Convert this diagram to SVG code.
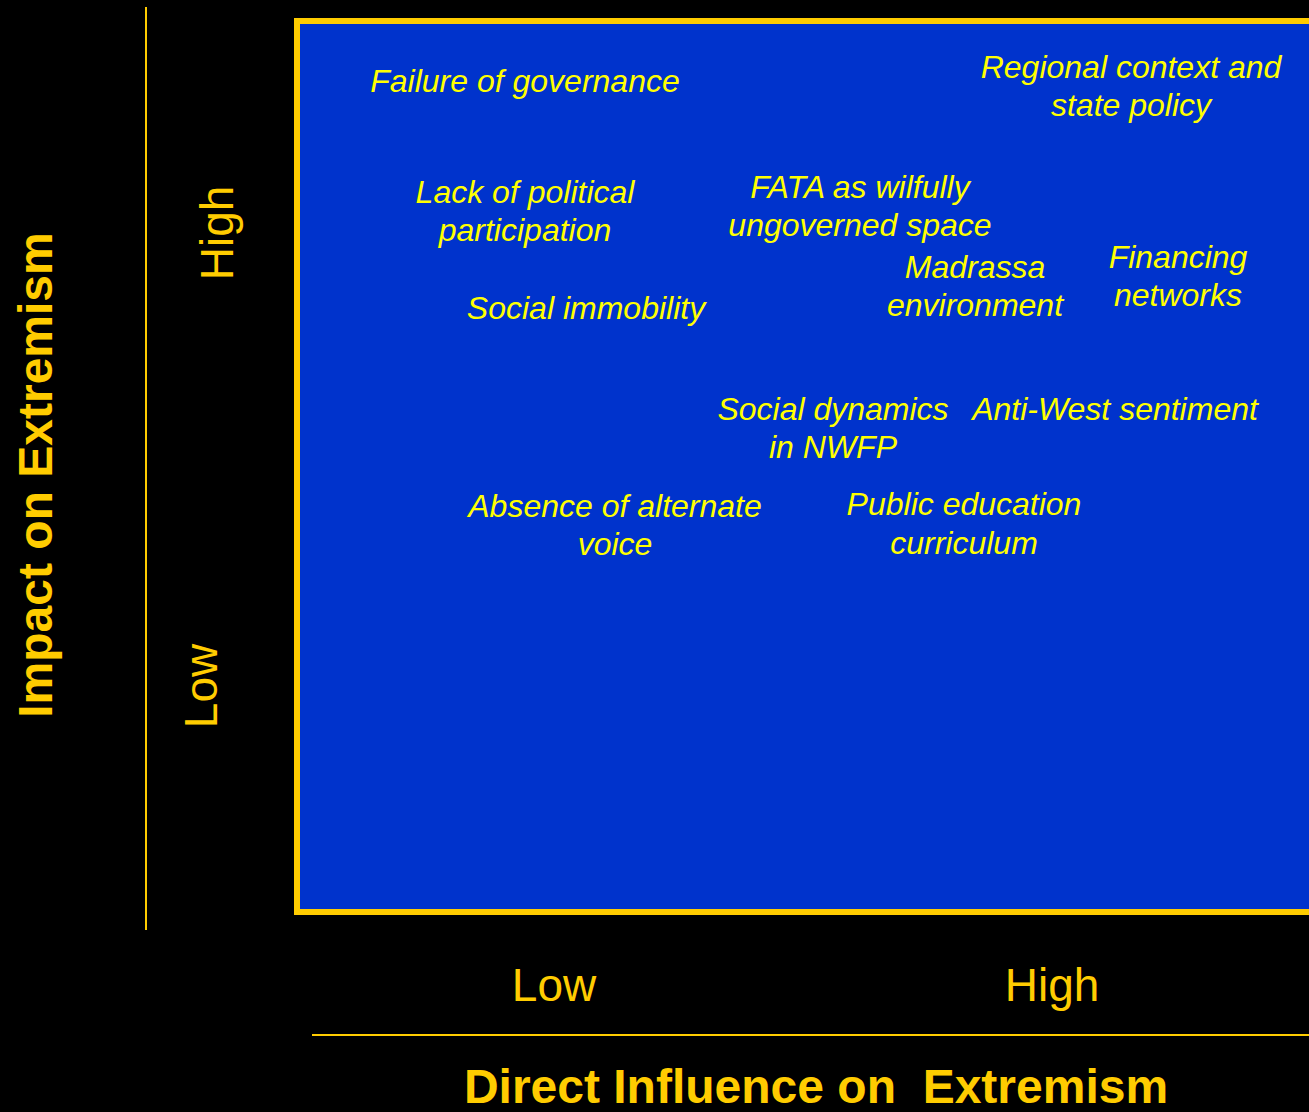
<svg xmlns="http://www.w3.org/2000/svg" width="1309" height="1112" viewBox="0 0 1309 1112">
<style>
.item{font-family:"Liberation Sans",Arial,sans-serif;font-style:italic;font-size:32px;fill:#FFFF00;text-anchor:middle}
.tick{font-family:"Liberation Sans",Arial,sans-serif;font-size:46px;fill:#FFCC00;text-anchor:middle}
.axis{font-family:"Liberation Sans",Arial,sans-serif;font-weight:bold;font-size:48px;fill:#FFCC00;text-anchor:middle}
.rule{stroke:#FFCC00;stroke-width:2;fill:none}
</style>
<rect x="0" y="0" width="1309" height="1112" fill="#000000"/>
<g id="matrix">
<rect x="297" y="21" width="1030" height="891" fill="#0033CC" stroke="#FFCC00" stroke-width="6"/>
</g>
<g id="connectors">
<line class="rule" x1="146" y1="7" x2="146" y2="930"/>
<line class="rule" x1="312" y1="1035" x2="1309" y2="1035"/>
</g>
<g id="y-axis">
<text class="axis" transform="translate(52,475) rotate(-90)">Impact on Extremism</text>
<text class="tick" transform="translate(233,233) rotate(-90)">High</text>
<text class="tick" transform="translate(217,686) rotate(-90)">Low</text>
</g>
<g id="x-axis">
<text class="tick" x="554" y="1001">Low</text>
<text class="tick" x="1052" y="1001">High</text>
<text class="axis" x="816" y="1103" xml:space="preserve">Direct Influence on  Extremism</text>
</g>
<g id="node-failure"><text class="item" x="525" y="92">Failure of governance</text></g>
<g id="node-regional"><text class="item" x="1131" y="78">Regional context and</text><text class="item" x="1131" y="116">state policy</text></g>
<g id="node-lack"><text class="item" x="525" y="203">Lack of political</text><text class="item" x="525" y="241">participation</text></g>
<g id="node-fata"><text class="item" x="860" y="198">FATA as wilfully</text><text class="item" x="860" y="236">ungoverned space</text></g>
<g id="node-immobility"><text class="item" x="586" y="319">Social immobility</text></g>
<g id="node-madrassa"><text class="item" x="975" y="278">Madrassa</text><text class="item" x="975" y="316">environment</text></g>
<g id="node-financing"><text class="item" x="1178" y="268">Financing</text><text class="item" x="1178" y="306">networks</text></g>
<g id="node-social-dynamics"><text class="item" x="833" y="420">Social dynamics</text><text class="item" x="833" y="458">in NWFP</text></g>
<g id="node-antiwest"><text class="item" x="1115" y="420">Anti-West sentiment</text></g>
<g id="node-absence"><text class="item" x="615" y="517">Absence of alternate</text><text class="item" x="615" y="555">voice</text></g>
<g id="node-public-education"><text class="item" x="964" y="515">Public education</text><text class="item" x="964" y="554">curriculum</text></g>
</svg>
